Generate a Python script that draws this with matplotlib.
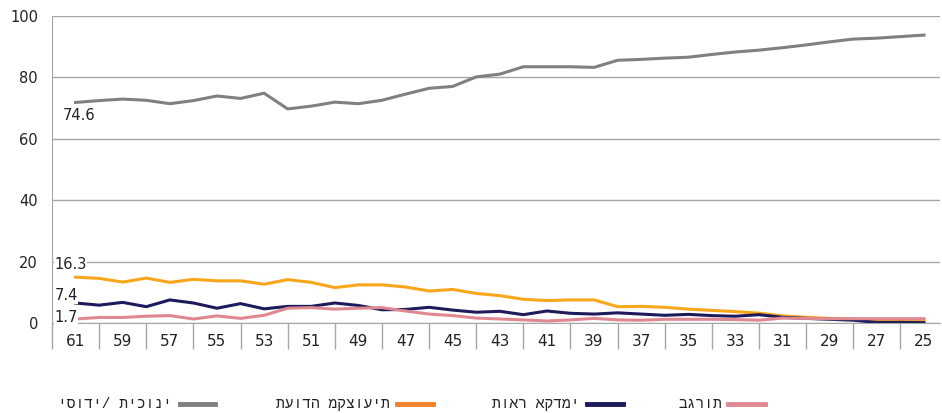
import matplotlib
matplotlib.use('Agg')
import matplotlib.pyplot as plt
from matplotlib.lines import Line2D
import numpy as np

# ages, shown from 61 down to 25
ages = list(range(61, 24, -1))

basic = [71.8, 72.4, 72.9, 72.5, 71.4, 72.4, 73.9, 73.1, 74.8, 69.7,
         70.6, 71.9, 71.4, 72.5, 74.5, 76.4, 77.0, 80.1, 81.0, 83.4,
         83.4, 83.4, 83.2, 85.5, 85.8, 86.2, 86.5, 87.4, 88.2, 88.8,
         89.6, 90.5, 91.5, 92.4, 92.7, 93.2, 93.7]
prof = [15.0, 14.6, 13.4, 14.7, 13.3, 14.3, 13.8, 13.8, 12.7, 14.2,
        13.3, 11.6, 12.5, 12.5, 11.8, 10.5, 11.0, 9.7, 9.0, 7.8,
        7.4, 7.6, 7.6, 5.4, 5.5, 5.2, 4.6, 4.2, 3.8, 3.3,
        2.4, 1.95, 1.6, 1.3, 1.0, 0.9, 0.75]
academic = [6.6, 5.9, 6.8, 5.4, 7.6, 6.6, 4.9, 6.4, 4.7, 5.5,
            5.5, 6.6, 5.8, 4.4, 4.5, 5.2, 4.3, 3.6, 3.9, 2.8,
            4.0, 3.25, 3.0, 3.4, 3.0, 2.6, 2.9, 2.5, 2.3, 2.8,
            1.95, 1.6, 1.3, 1.0, 0.3, 0.3, 0.2]
bagrut = [1.4, 1.9, 1.9, 2.3, 2.5, 1.4, 2.4, 1.6, 2.6, 4.9,
          5.1, 4.6, 4.9, 5.1, 4.0, 3.0, 2.5, 1.7, 1.4, 1.1,
          0.75, 1.1, 1.6, 1.1, 1.0, 1.3, 1.3, 1.3, 1.2, 1.0,
          1.7, 1.6, 1.5, 1.5, 1.5, 1.5, 1.5]

start_labels = ['74.6', '16.3', '7.4', '1.7']
names = ['יסודי/ תיכוני', 'תעודה מקצועית', 'תואר אקדמי', 'בגרות']
line_colors = ['#808080', '#F9A61A', '#1E1B5C', '#E08892']
legend_colors = ['#808080', '#F4812F', '#1E1B5C', '#E08892']

plt.rcParams['font.family'] = ['DejaVu Sans']

fig = plt.figure(figsize=(9.42, 4.13), dpi=100)
ax = fig.add_axes([52/942, (413-323.3)/413, 888/942, (323.3-15.7)/413])

x = np.arange(len(ages))
for vals, c in zip([basic, prof, academic, bagrut], line_colors):
    ax.plot(x, vals, color=c, lw=2.2, solid_joinstyle='round')

ax.set_ylim(0, 100)
ax.set_xlim(-1, 36.68)
ax.set_yticks(range(0, 101, 20))
ax.grid(axis='y', color='#A6A6A6', lw=1)
ax.set_axisbelow(True)
ax.tick_params(axis='y', length=0, pad=10, labelsize=10.5, colors='#222222')

ax.set_xticks(x[::2])
ax.set_xticklabels([str(a) for a in ages[::2]])
ax.set_xticks(np.arange(-1, 36, 2), minor=True)
ax.tick_params(axis='x', which='major', length=0, pad=8, labelsize=11, colors='#222222')
ax.tick_params(axis='x', which='minor', length=19, width=1, color='#A6A6A6')

for s in ['top', 'right']:
    ax.spines[s].set_visible(False)
for s in ['left', 'bottom']:
    ax.spines[s].set_color('#A6A6A6')

# starting value labels
label_pos = [(-0.55, 67.4), (-0.9, 19.0), (-0.9, 8.9), (-0.9, 2.0)]
for txt, (lx, ly) in zip(start_labels, label_pos):
    ax.text(lx, ly, txt, fontsize=10.5, ha='left', va='center', color='#222222',
            bbox=dict(facecolor='white', edgecolor='none', pad=0.5))

# legend: line marker to the right of each text
text_right = [172, 390, 580, 722]
marker_x = [(180, 215), (397, 433), (587, 623), (728, 765)]
ly = 1 - 404/413
for name, c, tr, (m0, m1) in zip(names, legend_colors, text_right, marker_x):
    fig.add_artist(Line2D([m0/942, m1/942], [ly, ly], color=c, lw=3.5,
                          transform=fig.transFigure))
    fig.text(tr/942, ly, name, ha='right', va='center', fontsize=10.5,
             color='#222222', family=['Liberation Mono', 'DejaVu Sans'])

plt.savefig('out.png', dpi=100)
